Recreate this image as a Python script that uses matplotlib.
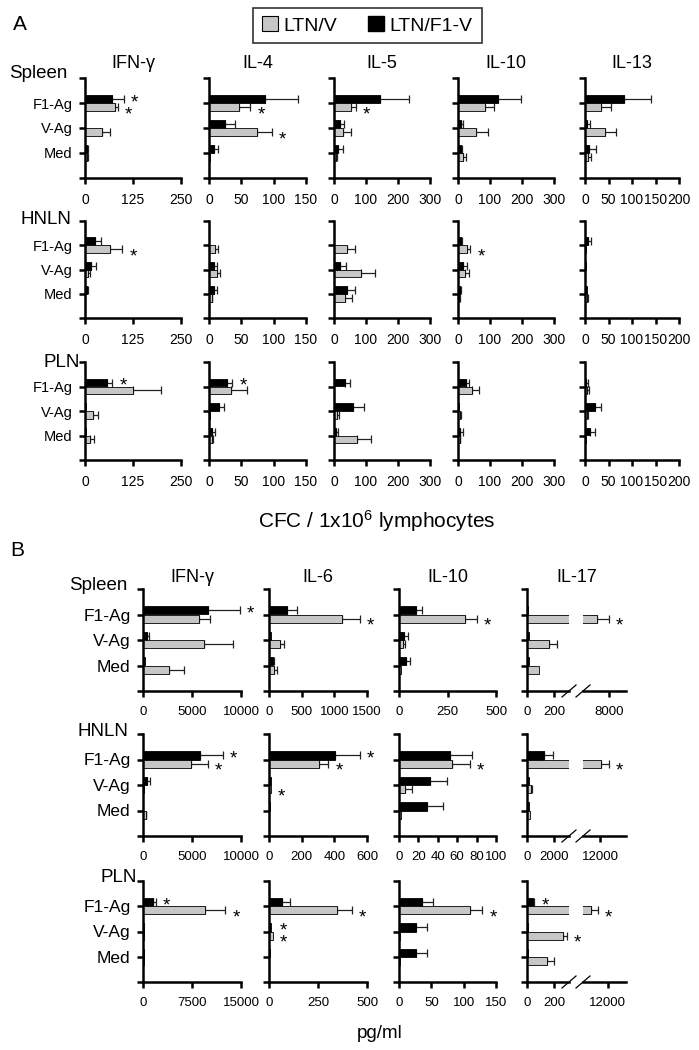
import matplotlib
matplotlib.use('Agg')
import matplotlib.pyplot as plt
from matplotlib.patches import Patch
import numpy as np

plt.rcParams['font.family'] = ['Liberation Sans', 'DejaVu Sans']
plt.rcParams['mathtext.fontset'] = 'custom'
plt.rcParams['mathtext.rm'] = 'Liberation Sans'
plt.rcParams['mathtext.default'] = 'regular'

W, H = 699, 1050
GRAY = '#c6c6c6'
ECOL = '#222222'

cats = ['F1-Ag', 'V-Ag', 'Med']
organs = ['Spleen', 'HNLN', 'PLN']

# ---------------- panel A : CFC / 1x10^6 lymphocytes ----------------
a_cyto = ['IFN-γ', 'IL-4', 'IL-5', 'IL-10', 'IL-13']
a_xmax = [250, 150, 300, 300, 200]
a_ticks = [[0, 125, 250], [0, 50, 100, 150], [0, 100, 200, 300],
           [0, 100, 200, 300], [0, 50, 100, 150, 200]]

# rows = cytokines, columns = F1-Ag, V-Ag, Med ; blk = LTN/F1-V, gry = LTN/V
a_spleen_blk = [[71, 1, 5], [87, 25, 8], [143, 19, 14], [125, 10, 8], [83, 5, 9]]
a_spleen_blk_err = [[30, 0, 4], [51, 15, 6], [90, 12, 13], [73, 5, 3], [57, 5, 14]]
a_spleen_gry = [[79, 43, 5], [47, 74, 1], [54, 29, 5], [83, 57, 16], [33, 42, 7]]
a_spleen_gry_err = [[7, 21, 3], [17, 23, 0], [14, 24, 3], [29, 37, 10], [23, 25, 6]]

a_hnln_blk = [[27, 16, 6], [0, 7, 7], [1, 19, 42], [8, 17, 5], [7, 2, 4]]
a_hnln_blk_err = [[14, 12, 2], [0, 6, 6], [0, 18, 24], [3, 12, 4], [5, 0, 0]]
a_hnln_gry = [[64, 8, 1], [10, 12, 4], [42, 83, 34], [29, 22, 3], [2, 1, 5]]
a_hnln_gry_err = [[33, 6, 0], [4, 5, 1], [24, 45, 23], [10, 11, 2], [0, 0, 2]]

a_pln_blk = [[58, 3, 3], [28, 15, 5], [34, 60, 6], [24, 3, 5], [3, 21, 11]]
a_pln_blk_err = [[13, 0, 0], [8, 8, 5], [16, 34, 7], [11, 0, 11], [4, 12, 11]]
a_pln_gry = [[124, 21, 12], [34, 1, 5], [1, 8, 71], [43, 5, 5], [5, 5, 3]]
a_pln_gry_err = [[74, 13, 11], [24, 0, 1], [0, 7, 44], [23, 3, 1], [3, 2, 0]]

# (organ, cytokine, category, series 0=black 1=gray)
a_stars = [(0, 0, 0, 0), (0, 0, 0, 1), (0, 1, 0, 1), (0, 1, 1, 1), (0, 2, 0, 1),
           (1, 0, 0, 1), (1, 3, 0, 1), (2, 0, 0, 0), (2, 1, 0, 0)]

# ---------------- panel B : pg/ml ----------------
b_cyto = ['IFN-γ', 'IL-6', 'IL-10', 'IL-17']
b_xmax = [[10000, 1500, 500], [10000, 600, 100], [15000, 500, 150]]
b_ticks = [[[0, 5000, 10000], [0, 500, 1000, 1500], [0, 250, 500]],
           [[0, 5000, 10000], [0, 200, 400, 600], [0, 20, 40, 60, 80, 100]],
           [[0, 7500, 15000], [0, 250, 500], [0, 50, 100, 150]]]
# IL-17 broken axis
b17_low = [310, 3100, 310]
b17_low_ticks = [[0, 200], [0, 2000], [0, 200]]
b17_high = [(5000, 10000), (10000, 15000), (8000, 15000)]
b17_high_ticks = [[8000], [12000], [12000]]

b_spleen_blk = [[6600, 410, 170], [270, 36, 62], [86, 27, 36], [5, 17, 12]]
b_spleen_blk_err = [[3260, 170, 0], [157, 0, 16], [30, 18, 20], [0, 0, 0]]
b_spleen_gry = [[5680, 6260, 2690], [1118, 172, 78], [342, 22, 8], [6630, 164, 89]]
b_spleen_gry_err = [[1190, 2890, 1460], [275, 62, 42], [60, 9, 0], [1370, 58, 0]]

b_hnln_blk = [[5780, 410, 50], [402, 10, 5], [53, 32, 29], [1250, 170, 120]]
b_hnln_blk_err = [[2350, 340, 0], [156, 0, 0], [22, 17, 16], [680, 0, 0]]
b_hnln_gry = [[4900, 100, 310], [307, 11, 3], [55, 6, 2], [12100, 290, 240]]
b_hnln_gry_err = [[1700, 0, 30], [57, 0, 0], [18, 7, 0], [900, 60, 0]]

b_pln_blk = [[1530, 100, 100], [64, 12, 7], [36, 27, 27], [44, 8, 10]]
b_pln_blk_err = [[460, 0, 0], [43, 0, 0], [16, 16, 16], [10, 0, 0]]
b_pln_gry = [[9440, 150, 100], [345, 21, 2], [110, 1, 1], [9300, 267, 148]]
b_pln_gry_err = [[3160, 0, 0], [78, 0, 0], [19, 0, 0], [1140, 29, 52]]

b_stars = [(0, 0, 0, 0), (0, 1, 0, 1), (0, 2, 0, 1), (0, 3, 0, 1),
           (1, 0, 0, 0), (1, 0, 0, 1), (1, 1, 0, 0), (1, 1, 0, 1), (1, 1, 1, 1),
           (1, 2, 0, 1), (1, 3, 0, 1),
           (2, 0, 0, 0), (2, 0, 0, 1), (2, 1, 0, 1), (2, 1, 1, 0), (2, 1, 1, 1),
           (2, 2, 0, 1), (2, 3, 0, 0), (2, 3, 0, 1), (2, 3, 1, 1)]

a_blk = [a_spleen_blk, a_hnln_blk, a_pln_blk]
a_blk_err = [a_spleen_blk_err, a_hnln_blk_err, a_pln_blk_err]
a_gry = [a_spleen_gry, a_hnln_gry, a_pln_gry]
a_gry_err = [a_spleen_gry_err, a_hnln_gry_err, a_pln_gry_err]
b_blk = [b_spleen_blk, b_hnln_blk, b_pln_blk]
b_blk_err = [b_spleen_blk_err, b_hnln_blk_err, b_pln_blk_err]
b_gry = [b_spleen_gry, b_hnln_gry, b_pln_gry]
b_gry_err = [b_spleen_gry_err, b_hnln_gry_err, b_pln_gry_err]

OFF = [-0.16, 0.16]
STAR_DY = [-2.5, -5.5]
pos = np.arange(1, 4)

fig = plt.figure(figsize=(W / 100, H / 100), dpi=100)


def px(x0, y0, w, h):
    return [x0 / W, 1 - (y0 + h) / H, w / W, h / H]


def setup(ax, xlim, ticks, show_cats, cat_fs, tick_fs):
    ax.set_xlim(*xlim)
    ax.set_ylim(4, 0)
    ax.set_xticks(ticks)
    ax.set_xticklabels([f'{t:g}' for t in ticks], fontsize=tick_fs)
    ax.set_yticks(range(5))
    if show_cats:
        ax.set_yticklabels([''] + cats + [''], fontsize=cat_fs)
    else:
        ax.set_yticklabels([])
    for s in ['top', 'right']:
        ax.spines[s].set_visible(False)
    for s in ['left', 'bottom']:
        ax.spines[s].set_linewidth(1.8)
    ax.tick_params(width=1.8, length=4.5, color='black')
    ax.tick_params(axis='x', pad=6)
    ax.tick_params(axis='y', pad=4.5)
    ax.patch.set_visible(False)


def draw(ax, blk, blk_e, gry, gry_e):
    ax.barh(pos + OFF[0], blk, height=0.32, color='black', edgecolor='black', linewidth=0.6, zorder=2)
    ax.barh(pos + OFF[1], gry, height=0.32, color=GRAY, edgecolor='black', linewidth=0.6, zorder=2)
    for vals, errs, off in ((blk, blk_e, OFF[0]), (gry, gry_e, OFF[1])):
        v = np.array(vals, float)
        e = np.array(errs, float)
        m = e > 0
        if m.any():
            ax.errorbar(v[m], pos[m] + off, xerr=[np.zeros(m.sum()), e[m]], fmt='none',
                        ecolor=ECOL, elinewidth=0.9, capsize=3, capthick=0.9, zorder=1)


def star(ax, x, y, s):
    ax.annotate('*', xy=(x, y), xytext=(5, STAR_DY[s]), textcoords='offset points',
                fontsize=13.5, ha='left', va='center', annotation_clip=False)


def place_stars(stars, blk, blk_e, gry, gry_e, get_ax, get_span):
    # stars of both series at (nearly) the same x are stacked in one text
    done = set()
    for r, c, k, s in stars:
        if (r, c, k, s) in done:
            continue
        x = [blk[r][c][k] + blk_e[r][c][k], gry[r][c][k] + gry_e[r][c][k]]
        other = (r, c, k, 1 - s)
        ax = get_ax(r, c, x[s])
        if other in stars and abs(x[0] - x[1]) < 0.04 * get_span(r, c):
            done.add(other)
            ax.annotate('*\n*', xy=(max(x), pos[k]), xytext=(5, -4), textcoords='offset points',
                        fontsize=13.5, ha='left', va='center', linespacing=0.62,
                        annotation_clip=False)
        else:
            star(ax, x[s], pos[k] + OFF[s], s)
        done.add((r, c, k, s))


# ---------- panel A ----------
A_X = [85, 209, 334, 458, 585]
A_W = [96, 97, 96, 96, 94]
A_Y = [78, 221, 362]
A_H = [100, 97, 98]

a_axes = {}
for r in range(3):
    for c in range(5):
        ax = fig.add_axes(px(A_X[c], A_Y[r], A_W[c], A_H[r]))
        setup(ax, (0, a_xmax[c]), a_ticks[c], c == 0, 10.5, 10)
        draw(ax, a_blk[r][c], a_blk_err[r][c], a_gry[r][c], a_gry_err[r][c])
        a_axes[r, c] = ax

place_stars(a_stars, a_blk, a_blk_err, a_gry, a_gry_err,
            lambda r, c, x: a_axes[r, c], lambda r, c: a_xmax[c])

for c in range(5):
    fig.text((A_X[c] + A_W[c] / 2) / W, 1 - 63 / H, a_cyto[c], ha='center', va='center', fontsize=13)

for lab, x, y in zip(organs, [67, 71, 80], [73, 220, 363]):
    fig.text(x / W, 1 - y / H, lab, ha='right', va='center', fontsize=13.5)

fig.text(13 / W, 1 - 24 / H, 'A', ha='left', va='center', fontsize=15)
fig.text(377 / W, 1 - 521 / H, 'CFC / 1x10$^6$ lymphocytes', ha='center', va='center', fontsize=15)

leg = fig.legend(handles=[Patch(fc=GRAY, ec='black', lw=0.8), Patch(fc='black', ec='black')],
                 labels=['LTN/V', 'LTN/F1-V'], ncol=2, loc='center',
                 bbox_to_anchor=(367.5 / W, 1 - 25.5 / H), frameon=True, fancybox=False,
                 edgecolor='black', fontsize=14, handlelength=0.8, handleheight=0.8,
                 handletextpad=0.3, columnspacing=1.6, borderpad=0.45)
leg.get_frame().set_linewidth(1.2)

# ---------- panel B ----------
B_X = [143, 269, 399]
B_W = [98, 98, 97]
B_Y = [589, 734, 881]
B_H = [102, 102, 101]
B17_LX, B17_LW = 527, 42
B17_HX, B17_HW = 583, 43

b_axes = {}
for r in range(3):
    for c in range(3):
        ax = fig.add_axes(px(B_X[c], B_Y[r], B_W[c], B_H[r]))
        setup(ax, (0, b_xmax[r][c]), b_ticks[r][c], c == 0, 12.5, 9.5)
        draw(ax, b_blk[r][c], b_blk_err[r][c], b_gry[r][c], b_gry_err[r][c])
        b_axes[r, c] = ax

    # broken IL-17 axis
    lo = fig.add_axes(px(B17_LX, B_Y[r], B17_LW, B_H[r]))
    setup(lo, (0, b17_low[r]), b17_low_ticks[r], False, 12.5, 9.5)
    draw(lo, b_blk[r][3], b_blk_err[r][3], b_gry[r][3], b_gry_err[r][3])
    hi = fig.add_axes(px(B17_HX, B_Y[r], B17_HW, B_H[r]))
    setup(hi, b17_high[r], b17_high_ticks[r], False, 12.5, 9.5)
    hi.spines['left'].set_visible(False)
    hi.tick_params(axis='y', left=False)
    draw(hi, b_blk[r][3], b_blk_err[r][3], b_gry[r][3], b_gry_err[r][3])
    dx_l, dx_h, dy = 7 / B17_LW, 7 / B17_HW, 6 / B_H[r]
    lo.plot([1 - dx_l, 1 + dx_l], [-dy, dy], transform=lo.transAxes, color='black', lw=0.9, clip_on=False)
    hi.plot([-dx_h, dx_h], [-dy, dy], transform=hi.transAxes, color='black', lw=0.9, clip_on=False)
    b_axes[r, 3] = (lo, hi)


def b_get_ax(r, c, x):
    if c == 3:
        return b_axes[r, 3][1] if x > b17_low[r] else b_axes[r, 3][0]
    return b_axes[r, c]


def b_span(r, c):
    return b17_high[r][1] if c == 3 else b_xmax[r][c]


place_stars(b_stars, b_blk, b_blk_err, b_gry, b_gry_err, b_get_ax, b_span)

b_cx = [B_X[0] + B_W[0] / 2, B_X[1] + B_W[1] / 2, B_X[2] + B_W[2] / 2, (B17_LX + B17_HX + B17_HW) / 2]
for c in range(4):
    fig.text(b_cx[c] / W, 1 - 577 / H, b_cyto[c], ha='center', va='center', fontsize=13)

for lab, x, y in zip(organs, [127, 128, 137], [585, 732, 878]):
    fig.text(x / W, 1 - y / H, lab, ha='right', va='center', fontsize=13.5)

fig.text(10 / W, 1 - 550 / H, 'B', ha='left', va='center', fontsize=15)
fig.text(380 / W, 1 - 1033 / H, 'pg/ml', ha='center', va='center', fontsize=13.5)

fig.savefig('out.png', dpi=100)
